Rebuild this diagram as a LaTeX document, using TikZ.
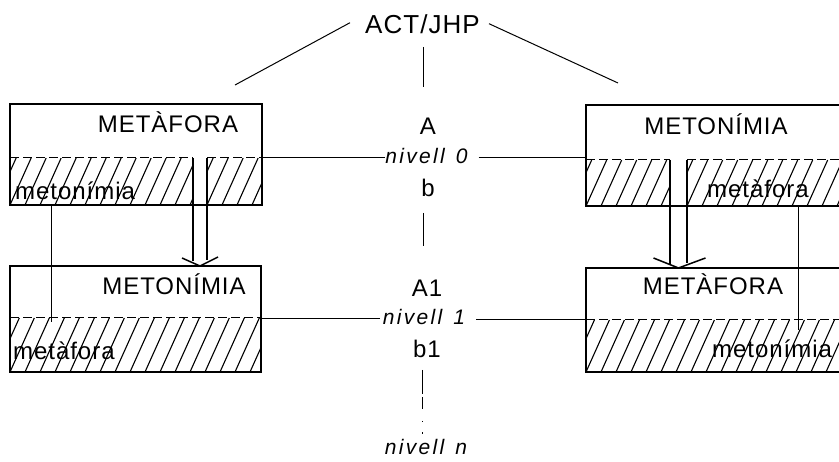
\documentclass[tikz,border=0pt]{standalone}
\usepackage{fontspec}
\setmainfont{Liberation Sans}[LetterSpace=4]
\newfontfamily\nivfont{Liberation Sans}[LetterSpace=11]

% diagonal hatching inside a rectangle: x0, y-top, x1, y-bottom
\newcommand{\hatchrect}[4]{%
  \begin{scope}
    \clip (#1,#2) rectangle (#3,#4);
    \foreach \i in {-3,...,22}
      \draw[hatch] (#1+15*\i,#4) -- (#1+15*\i+0.45*#4-0.45*#2,#2);
  \end{scope}}

\begin{document}
\begin{tikzpicture}[x=1pt,y=-1pt,
  frame/.style={draw, line width=1.7pt, inner sep=0pt, outer sep=0pt},
  hatch/.style={line width=1.1pt},
  divider/.style={line width=1pt, dash pattern=on 9pt off 4pt},
  conn/.style={line width=1pt},
  shaft/.style={line width=1.3pt},
  head/.style={line width=1.5pt, line join=miter},
  lbl/.style={inner sep=0pt, font=\fontsize{24}{26}\selectfont},
  big/.style={inner sep=0pt, font=\fontsize{26}{28}\selectfont},
  niv/.style={inner sep=0pt, font=\nivfont\itshape\fontsize{21}{23}\selectfont}]
\useasboundingbox (0,0) rectangle (839,462);

% ---- boxes ----
\node[frame, minimum width=252pt, minimum height=101pt] (tl) at (136,154.5) {};
\node[frame, minimum width=251pt, minimum height=106pt] (bl) at (135.5,319) {};
\node[frame, minimum width=259pt, minimum height=101pt] (tr) at (715.5,155.5) {};
\node[frame, minimum width=259pt, minimum height=104pt] (br) at (715.5,320) {};

% hatched lower halves (the upper boxes leave a channel for the arrow)
\hatchrect{10}{158}{193}{205}
\hatchrect{207}{158}{262}{205}
\hatchrect{10}{318}{261}{372}
\hatchrect{586}{160}{670}{206}
\hatchrect{687}{160}{845}{206}
\hatchrect{586}{320}{845}{372}

% dividers between the plain and the hatched part
\draw[divider] (10,158) -- (193,158);
\draw[divider] (207,158) -- (262,158);
\draw[divider] (10,318) -- (261,318);
\draw[divider] (586,160) -- (670,160);
\draw[divider] (687,160) -- (845,160);
\draw[divider] (586,320) -- (845,320);

% ---- box labels ----
\node[lbl, anchor=base] (t1) at (168,133) {METÀFORA};
\node[lbl, anchor=base west] (t1s) at (15,200) {metonímia};
\node[lbl, anchor=base] (t2) at (174,295) {METONÍMIA};
\node[lbl, anchor=base west] (t2s) at (13,360) {metàfora};
\node[lbl, anchor=base] (t3) at (716,135) {METONÍMIA};
\node[lbl, anchor=base west] (t3s) at (707,198) {metàfora};
\node[lbl, anchor=base] (t4) at (713,295) {METÀFORA};
\node[lbl, anchor=base west] (t4s) at (712,358) {metonímia};

% ---- central column ----
\node[big, anchor=base] (act) at (422.5,34) {ACT/JHP};
\node[lbl, anchor=base] (A) at (428,135) {A};
\node[niv, anchor=base] (n0) at (426.5,164) {nivell\hspace{11pt}0};
\node[lbl, anchor=base] (b) at (428,197) {b};
\node[lbl, anchor=base] (A1) at (427,297) {A1};
\node[niv, anchor=base] (n1) at (424,325) {nivell\hspace{11pt}1};
\node[lbl, anchor=base] (b1) at (427,358) {b1};
\node[niv, anchor=base] (nn) at (426,455) {nivell\hspace{11pt}n};

% branches from the title
\coordinate (brL) at (235,85);
\coordinate (brR) at (618,83);
\draw[conn] ([xshift=-15pt,yshift=2pt]act.west) -- (brL);
\draw[conn] ([xshift=9pt,yshift=1pt]act.east) -- (brR);
\coordinate (v0) at (423,47);
\draw[conn] (v0) -- (423,87);
\coordinate (v1) at (423,213);
\draw[conn] (v1) -- (423,246);
\coordinate (v2) at (422,370);
\draw[conn, dash pattern=on 24pt off 3pt on 12pt off 12pt on 1.5pt off 10pt on 1.5pt] (v2) -- (422,435);

% level lines
\coordinate (l0L) at (262,158);
\coordinate (l0R) at (586,158);
\draw[conn] (l0L) -- (l0L -| n0.west);
\draw[conn] ([xshift=11pt]n0.east |- l0R) -- (l0R);
\coordinate (l1L) at (261,319);
\coordinate (l1R) at (586,320);
\draw[conn] (l1L) -- ([xshift=-3pt]l1L -| n1.west);
\draw[conn] ([xshift=11pt]n1.east |- l1R) -- (l1R);

% double arrows from the upper to the lower boxes
\coordinate (aL) at (200,158);
\coordinate (aLtip) at (200,266);
\draw[shaft] (aL) ++(-7,0) -- ++(0,103);
\draw[shaft] (aL) ++(7,0) -- ++(0,102);
\draw[head] (aLtip) ++(-18,-8) -- (aLtip) -- ++(18,-9);

\coordinate (aR) at (678.5,160);
\coordinate (aRtip) at (678.5,268);
\draw[shaft] (aR) ++(-8.5,0) -- ++(0,104);
\draw[shaft] (aR) ++(8.5,0) -- ++(0,103);
\draw[head] (aRtip) ++(-25,-10) -- (aRtip) -- ++(27,-10);

% thin cross links
\coordinate (kL) at (51,205);
\draw[conn] (kL) -- (51,322);
\coordinate (kR) at (798,206);
\draw[conn] (kR) -- (798,330);
\end{tikzpicture}
\end{document}
